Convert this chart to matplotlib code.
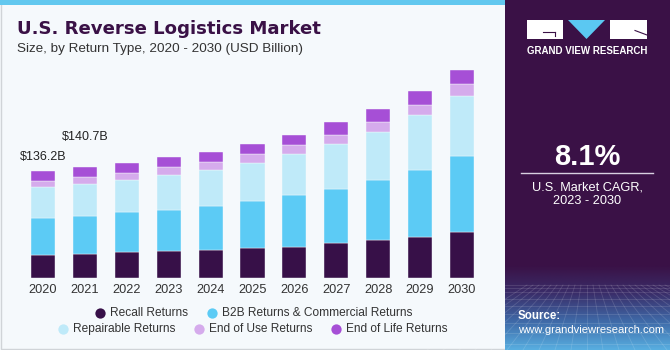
import numpy as np
import matplotlib.pyplot as plt
from matplotlib.colors import LinearSegmentedColormap
from matplotlib.patches import Rectangle, Polygon

plt.rcParams['font.family'] = ['Liberation Sans', 'DejaVu Sans']

# data (USD billion)
years = ['2020', '2021', '2022', '2023', '2024', '2025', '2026', '2027', '2028', '2029', '2030']
recall = [29.5, 30.8, 32.9, 34.2, 35.9, 38.0, 39.7, 44.3, 48.5, 52.7, 58.3]
b2b = [46.8, 48.2, 50.7, 52.3, 56.1, 59.9, 65.5, 69.2, 76.4, 84.9, 96.3]
repairable = [38.9, 40.6, 41.3, 44.0, 45.6, 48.5, 52.7, 57.0, 60.8, 69.7, 76.8]
end_of_use = [8.0, 8.9, 8.1, 10.1, 9.8, 11.4, 11.4, 11.4, 12.7, 12.7, 14.4]
end_of_life = [13.0, 12.3, 12.7, 12.7, 13.0, 12.7, 12.7, 15.7, 16.1, 17.4, 18.5]
series = [recall, b2b, repairable, end_of_use, end_of_life]
names = ['Recall Returns', 'B2B Returns & Commercial Returns', 'Repairable Returns',
         'End of Use Returns', 'End of Life Returns']
colors = ['#371048', '#5ccbf5', '#bfeaf9', '#d5abec', '#a64fd6']
callouts = {0: '$136.2B', 1: '$140.7B'}

W, H = 670, 350
fig = plt.figure(figsize=(6.7, 3.5), dpi=100)
fig.patch.set_facecolor('#f5f9fc')

# overlay in pixel coords for decoration / text
deco = fig.add_axes([0, 0, 1, 1], zorder=0)
deco.set_xlim(0, W)
deco.set_ylim(H, 0)
deco.axis('off')
deco.patch.set_alpha(0)

deco.add_patch(Rectangle((0.5, 0.5), 505, 348.5, facecolor='none', edgecolor='#d0d4d8', lw=1))
deco.add_patch(Rectangle((0, 0), 505, 5, facecolor='#62c8ef', lw=0))

# side panel
deco.add_patch(Rectangle((505, 0), 165, 350, facecolor='#3a1146', lw=0))
cmap = LinearSegmentedColormap.from_list('side', ['#3a1146', '#3a2e6a', '#3f6aa8', '#58aee0'])
grad = np.linspace(0, 1, 100)[:, None]
deco.imshow(grad, extent=(505, 670, 350, 265), aspect='auto', cmap=cmap, zorder=1)
for k in range(9):
    yy = 285 + (k ** 1.5) * 2.6
    deco.plot([505, 670], [yy, yy], color='white', alpha=0.14, lw=0.6, zorder=2)
for k in range(-10, 22):
    x0 = 587 + k * 6
    deco.plot([x0, 587 + k * 16], [285, 350], color='white', alpha=0.14, lw=0.6, zorder=2)

# logo
deco.add_patch(Rectangle((527, 20), 36, 19, facecolor='white', lw=0, zorder=3))
deco.plot([543, 555], [32, 32], color='#3a1146', lw=0.8, zorder=4)
deco.plot([555, 555], [32, 36], color='#3a1146', lw=0.8, zorder=4)
deco.add_patch(Polygon([(568, 20), (605, 20), (586.5, 39)], facecolor='#5bc8f2', lw=0, zorder=3))
deco.add_patch(Rectangle((610, 20), 37, 19, facecolor='white', lw=0, zorder=3))
deco.plot([635, 647], [30.5, 35], color='#3a1146', lw=0.8, zorder=4)
deco.text(587, 51, 'GRAND VIEW RESEARCH', color='white', fontsize=7, fontweight='bold',
          ha='center', va='center', zorder=4)

deco.text(587, 157, '8.1%', color='white', fontsize=21, fontweight='bold',
          ha='center', va='center', zorder=4)
deco.plot([521, 653], [173.3, 173.3], color='#d8d0e0', lw=1, zorder=4)
deco.text(587, 187, 'U.S. Market CAGR,', color='white', fontsize=9.2, ha='center', va='center', zorder=4)
deco.text(587, 201.5, '2023 - 2030', color='white', fontsize=9.2, ha='center', va='center', zorder=4)
deco.text(518, 316, 'Source:', color='white', fontsize=8.3, fontweight='bold', ha='left', va='center', zorder=4)
deco.text(518, 330, 'www.grandviewresearch.com', color='white', fontsize=8.1, ha='left', va='center', zorder=4)

# titles
deco.text(17, 28.5, 'U.S. Reverse Logistics Market', color='#3a1146', fontsize=13.1,
          fontweight='heavy', family=['DejaVu Sans'], ha='left', va='center')
deco.text(17, 49, 'Size, by Return Type, 2020 - 2030 (USD Billion)', color='#333333',
          fontsize=9.7, ha='left', va='center')

# legend, two centred rows
rows = [[(100, 0), (212, 1)], [(63, 2), (199, 3), (335.5, 4)]]
for ry, row in zip([313, 329], rows):
    for mx, i in row:
        deco.scatter([mx], [ry], s=55, color=colors[i], lw=0, zorder=4)
        deco.text(mx + 10, ry, names[i], color='#333333', fontsize=8.6, ha='left', va='center')

# bar chart
ax = fig.add_axes([20 / W, 71.7 / H, 465 / W, 218.3 / H], zorder=2)
ax.patch.set_alpha(0)
x = np.arange(len(years))
bottom = np.zeros(len(years))
for vals, c in zip(series, colors):
    ax.bar(x, vals, width=0.575, bottom=bottom, color=c, edgecolor='#f5f9fc', lw=0.3)
    bottom += np.array(vals)
ax.set_xlim(-0.55, 10.55)
ax.set_ylim(0, 276.6)
for i, lab in callouts.items():
    ax.text(x[i], bottom[i] + (17 if i == 0 else 38), lab, fontsize=9, color='#222222',
            ha='center', va='center')
ax.set_xticks(x)
ax.set_xticklabels(years, fontsize=9.2, color='#333333')
ax.tick_params(axis='x', length=0, pad=4)
ax.set_yticks([])
for s in ax.spines.values():
    s.set_visible(False)

fig.savefig('out.png', dpi=100, facecolor=fig.get_facecolor())
